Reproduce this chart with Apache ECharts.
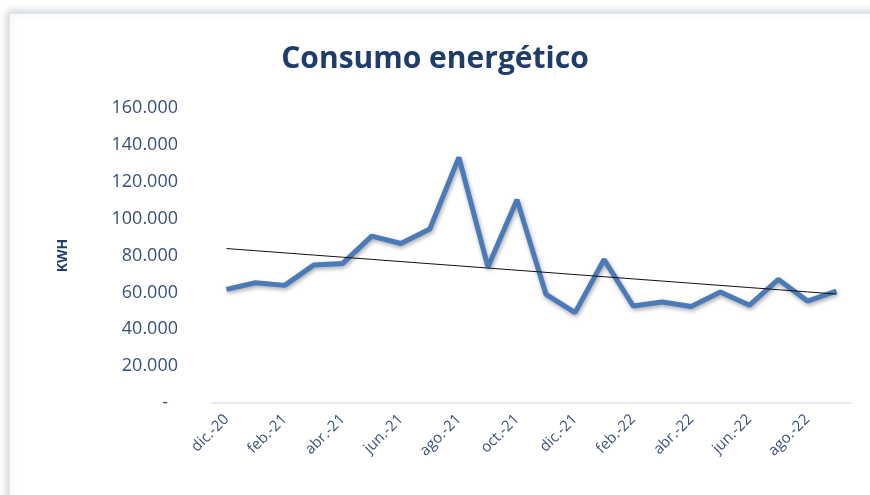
<!DOCTYPE html>
<html>
<head>
<meta charset="utf-8">
<script src="https://cdn.jsdelivr.net/npm/echarts@6/dist/echarts.min.js"></script>
<style>
html,body{margin:0;padding:0;background:#fff;}
#chart{width:870px;height:495px;}
</style>
</head>
<body>
<div id="chart"></div>
<script>
var categories = ['dic.-20','ene.-21','feb.-21','mar.-21','abr.-21','may.-21','jun.-21','jul.-21','ago.-21','sep.-21','oct.-21','nov.-21','dic.-21','ene.-22','feb.-22','mar.-22','abr.-22','may.-22','jun.-22','jul.-22','ago.-22','sep.-22'];
var consumo = [61600,65200,63800,74800,75700,90500,86500,94400,133200,73800,110300,58900,49000,77800,52600,54800,52300,60200,53000,67000,55300,60700];
var yTicks = [0,20000,40000,60000,80000,100000,120000,140000,160000];

// Linear trend line (least squares), like the spreadsheet trendline
var n = consumo.length, sx = 0, sy = 0, sxy = 0, sxx = 0;
for (var i = 0; i < n; i++) { sx += i; sy += consumo[i]; sxy += i * consumo[i]; sxx += i * i; }
var slope = (n * sxy - sx * sy) / (n * sxx - sx * sx);
var icpt = (sy - slope * sx) / n;
var trend = consumo.map(function (v, i) { return icpt + slope * i; });

function fmt(v) {
  if (v === 0) return '{d|-}';
  return String(v).replace(/\B(?=(\d{3})+(?!\d))/g, '.');
}

var chart = echarts.init(document.getElementById('chart'));
chart.setOption({
  backgroundColor: '#ffffff',
  animation: false,
  graphic: [{
    type: 'rect',
    shape: { x: 9, y: 13, width: 880, height: 500 },
    style: { fill: '#ffffff', stroke: '#d6e2ee', lineWidth: 1.5, shadowBlur: 8, shadowColor: 'rgba(0,0,0,0.18)', shadowOffsetX: -1, shadowOffsetY: -1 },
    z: -10
  }],
  title: {
    text: 'Consumo energético',
    left: 'center',
    top: 39,
    textStyle: { fontFamily: 'Open Sans', fontWeight: 'bold', fontSize: 30, color: '#1f3d6b' }
  },
  grid: { left: 212, right: 19, top: 108, bottom: 92 },
  xAxis: {
    type: 'category',
    data: categories,
    boundaryGap: true,
    axisLine: { show: true, lineStyle: { color: '#e3e3e3', width: 1.5 } },
    axisTick: { show: false },
    axisLabel: {
      interval: 1,
      rotate: 45,
      margin: 14,
      fontFamily: 'Open Sans',
      fontSize: 15,
      color: '#3b5078'
    }
  },
  yAxis: {
    type: 'value',
    min: 0,
    max: 160000,
    interval: 20000,
    name: 'KWH',
    nameLocation: 'middle',
    nameGap: 142,
    nameRotate: 90,
    nameTextStyle: { fontFamily: 'Open Sans', fontWeight: 'bold', fontSize: 14, color: '#1f3d6b' },
    axisLine: { show: false },
    axisTick: { show: false },
    splitLine: { show: false },
    axisLabel: {
      margin: 34,
      fontFamily: 'Open Sans',
      fontSize: 18,
      color: '#3b5078',
      formatter: function (v) { return yTicks.indexOf(v) >= 0 ? fmt(v) : ''; },
      rich: { d: { fontFamily: 'Open Sans', fontSize: 18, color: '#3b5078', padding: [0, 10, 0, 0] } }
    }
  },
  series: [{
    type: 'line',
    data: consumo,
    symbol: 'none',
    lineStyle: { color: '#4a7ab8', width: 5, shadowBlur: 4, shadowColor: 'rgba(0,0,0,0.35)', shadowOffsetY: 2, shadowOffsetX: 1 },
    z: 2
  }, {
    type: 'line',
    data: trend,
    symbol: 'none',
    lineStyle: { color: '#111111', width: 1 },
    z: 3
  }]
});
</script>
</body>
</html>
